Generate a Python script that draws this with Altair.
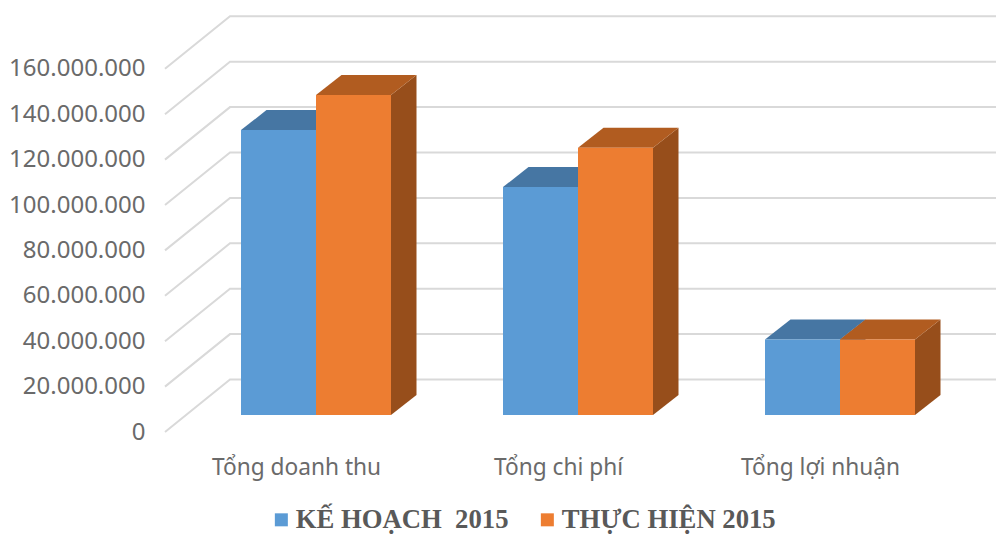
import json
import altair as alt
import pandas as pd

categories = ["Tổng doanh thu", "Tổng chi phí", "Tổng lợi nhuận"]
series = ["KẾ HOẠCH \u00a02015", "THỰC HIỆN 2015"]
plan_values = [125500000, 100400000, 33300000]
actual_values = [141000000, 117700000, 33300000]
ticks = [0, 20000000, 40000000, 60000000, 80000000, 100000000, 120000000, 140000000, 160000000]
front_colors = ["#5b9bd5", "#ed7d31"]
top_colors = ["#4676a3", "#b15c20"]
side_colors = ["#3f6c96", "#974e1b"]
GRID = "#d9d9d9"
TEXT = "#6a6a6a"

# projection of the 3-D box, in pixels
PX_PER_UNIT = 45.4 / 20000000
VIEW_W, VIEW_H = 831, 532
ZERO_Y = 424  # y of value 0 inside the view
WALL_DX, WALL_DY = 65, 52.5 / PX_PER_UNIT
BAR_DX, BAR_DY = 25.5, 20 / PX_PER_UNIT
BASE = 17 / PX_PER_UNIT
BAR_W, FIRST, STEP = 75, 76, 262
LABEL_SHIFT = -20

y_dom = [(ZERO_Y - VIEW_H) / PX_PER_UNIT, ZERO_Y / PX_PER_UNIT]
xs = alt.Scale(domain=[0, VIEW_W], range=[0, VIEW_W], nice=False, zero=False)
ys = alt.Scale(domain=y_dom, nice=False, zero=False)

grid = pd.DataFrame(
    [{"tick": t, "x": x, "y": t + d} for t in ticks
     for x, d in [(0, 0), (WALL_DX, WALL_DY), (VIEW_W, WALL_DY)]]
)

front, top, side = [], [], []
for s, vals in enumerate([plan_values, actual_values]):
    for c, v in enumerate(vals):
        x0 = FIRST + c * STEP + s * BAR_W
        x1 = x0 + BAR_W
        t = BASE + v
        front.append(dict(series=series[s], cat=c, s=s, x=x0, x2=x1, y=BASE, y2=t))
        top.append(dict(s=s, cat=c, y=t, x=x0, x2=x1))
        top.append(dict(s=s, cat=c, y=t + BAR_DY, x=x0 + BAR_DX, x2=x1 + BAR_DX))
        side.append(dict(s=s, cat=c, x=x1, y=BASE, y2=t))
        side.append(dict(s=s, cat=c, x=x1 + BAR_DX, y=BASE + BAR_DY, y2=t + BAR_DY))
front, top, side = map(pd.DataFrame, (front, top, side))

label_pos = [FIRST + i * STEP + BAR_W + LABEL_SHIFT for i in range(len(categories))]
label_expr = f"{json.dumps(categories, ensure_ascii=False)}[indexof({json.dumps(label_pos)}, datum.value)]"

x_axis = alt.Axis(values=label_pos, labelExpr=label_expr, domain=False, ticks=False, grid=False,
                  title=None, labelFont="Noto Sans", labelFontSize=22.7, labelColor=TEXT,
                  offset=-83.5, labelPadding=0, labelOverlap=False, labelBaseline="top")
y_axis = alt.Axis(values=ticks, labelExpr="replace(format(datum.value, ',d'), /,/g, '.')",
                  domain=False, ticks=False, grid=False, title=None, labelFont="Noto Sans",
                  labelFontSize=24, labelColor=TEXT, labelPadding=20, labelOverlap=False, labelBound=False)

grid_layer = alt.Chart(grid).mark_line(color=GRID, strokeWidth=2, clip=False).encode(
    x=alt.X("x:Q", scale=xs, axis=x_axis),
    y=alt.Y("y:Q", scale=ys, axis=y_axis),
    detail="tick:N",
)

layers = [grid_layer]
for s in range(2):
    layers.append(
        alt.Chart(side[side.s == s]).mark_area(color=side_colors[s], interpolate="linear").encode(
            x=alt.X("x:Q", scale=xs), y=alt.Y("y:Q", scale=ys, stack=None), y2="y2:Q", detail="cat:N")
    )
    layers.append(
        alt.Chart(top[top.s == s]).mark_area(color=top_colors[s], orient="horizontal").encode(
            x=alt.X("x:Q", scale=xs, stack=None), x2="x2:Q", y=alt.Y("y:Q", scale=ys), detail="cat:N")
    )
    layers.append(
        alt.Chart(front[front.s == s]).mark_bar().encode(
            x=alt.X("x:Q", scale=xs), x2="x2:Q",
            y=alt.Y("y:Q", scale=ys), y2="y2:Q",
            color=alt.Color("series:N", scale=alt.Scale(domain=series, range=front_colors),
                            legend=alt.Legend(
                                title=None, orient="none", legendX=103, legendY=498, direction="horizontal",
                                columns=2, columnPadding=25, symbolType="square", symbolSize=169,
                                symbolStrokeWidth=0, labelFont="Liberation Serif", labelFontWeight="bold",
                                labelFontSize=26.7, labelColor="#595959", labelLimit=400, padding=0,
                                labelOffset=1)),
        )
    )

chart = alt.layer(*layers).resolve_scale(color="shared").properties(
    width=VIEW_W, height=VIEW_H,
    padding={"left": 157, "top": 0, "right": 0, "bottom": 0},
    autosize=alt.AutoSizeParams(type="none"),
).configure_view(stroke=None)

chart.save("out.html", embed_options={"renderer": "svg", "actions": False})
